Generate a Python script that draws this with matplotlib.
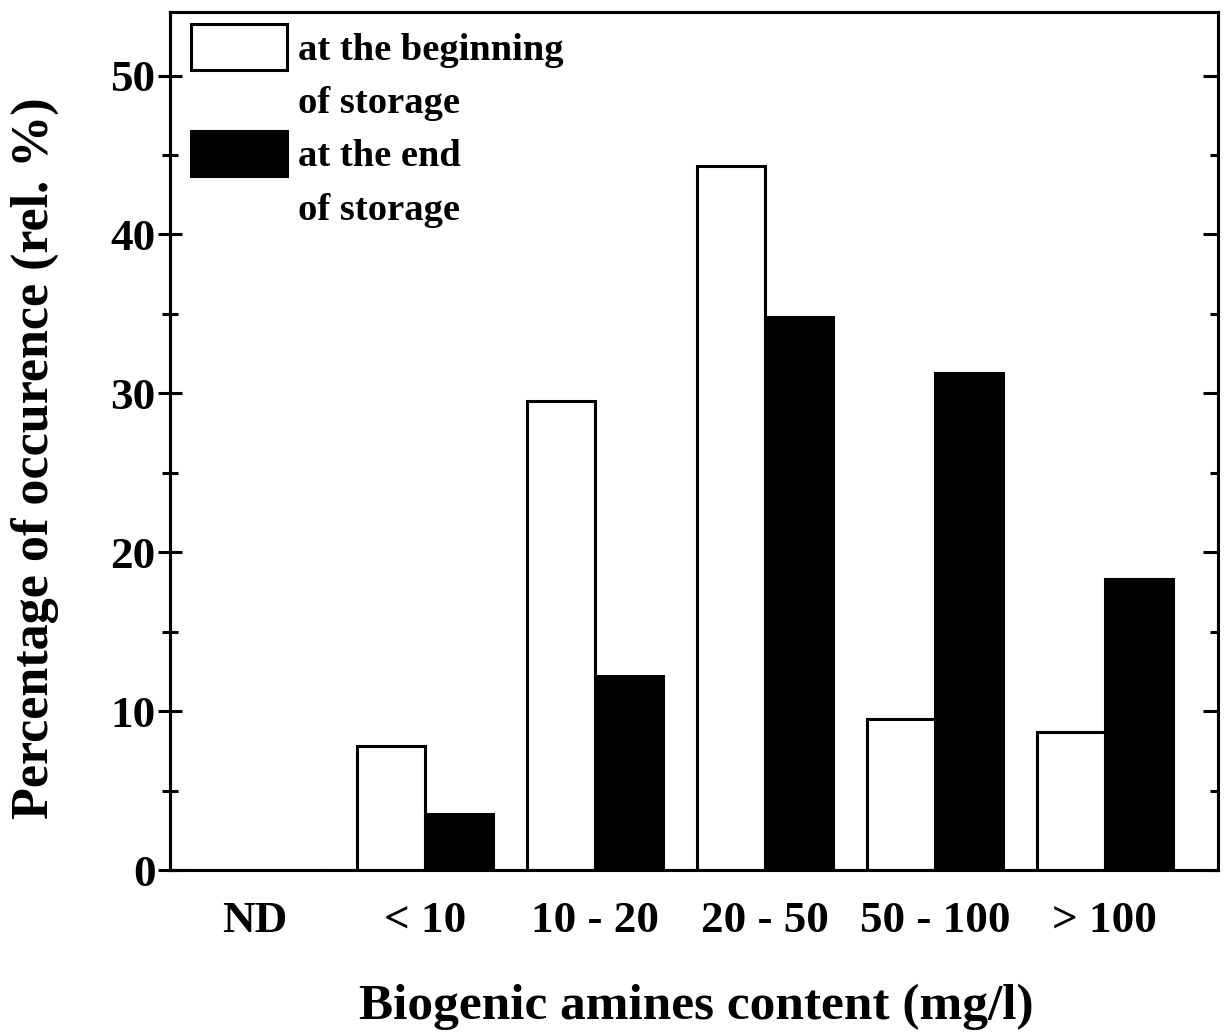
import matplotlib
matplotlib.use("Agg")
import matplotlib.pyplot as plt
from matplotlib.patches import Patch
from matplotlib.ticker import MultipleLocator

categories = ["ND", "< 10", "10 - 20", "20 - 50", "50 - 100", "> 100"]
beginning = [0, 7.8, 29.5, 44.3, 9.5, 8.7]
end = [0, 3.5, 12.2, 34.8, 31.3, 18.3]

plt.rcParams["font.family"] = ["Liberation Serif", "DejaVu Serif"]
plt.rcParams["font.weight"] = "bold"

fig = plt.figure(figsize=(12.24, 10.34), dpi=100)
ax = fig.add_axes([0.1389, 0.1586, 0.8561, 0.8298])

x = list(range(len(categories)))
w = 0.4
lw = 2.2
ax.bar([i - w / 2 for i in x], beginning, w, color="white", edgecolor="black", linewidth=lw)
ax.bar([i + w / 2 for i in x], end, w, color="black", edgecolor="black", linewidth=lw)

ax.set_xlim(-0.5, 5.665)
ax.set_ylim(0, 54)
ax.set_xticks(x)
ax.set_xticklabels(categories)
ax.tick_params(axis="x", length=0, pad=22, labelsize=32.5)
ax.yaxis.set_major_locator(MultipleLocator(10))
ax.yaxis.set_minor_locator(MultipleLocator(5))
ax.tick_params(axis="y", which="major", direction="inout", length=17, width=2.2,
               labelsize=32.5, pad=2)
ax.tick_params(axis="y", which="minor", direction="inout", length=11, width=2.2)
for s in ax.spines.values():
    s.set_linewidth(2.2)

# right-hand ticks point inward only
rax = ax.twinx()
rax.set_ylim(ax.get_ylim())
rax.yaxis.set_major_locator(MultipleLocator(10))
rax.yaxis.set_minor_locator(MultipleLocator(5))
rax.tick_params(axis="y", which="major", direction="in", length=11, width=2.2, labelright=False)
rax.tick_params(axis="y", which="minor", direction="in", length=5.5, width=2.2)
for s in rax.spines.values():
    s.set_linewidth(2.2)

ax.set_xlabel("Biogenic amines content (mg/l)", fontsize=37, fontweight="bold")
ax.xaxis.set_label_coords(0.502, -0.132)
ax.set_ylabel("Percentage of occurence (rel. %)", fontsize=37.5, fontweight="bold")
ax.yaxis.set_label_coords(-0.106, 0.48)

handles = [Patch(facecolor="white", edgecolor="black", linewidth=lw),
           Patch(visible=False),
           Patch(facecolor="black", edgecolor="black", linewidth=lw),
           Patch(visible=False)]
labels = ["at the beginning", "of storage", "at the end", "of storage"]
ax.legend(handles, labels, loc="upper left", bbox_to_anchor=(0.005, 1.004),
          frameon=False, fontsize=27.7,
          handlelength=2.5, handleheight=1.45, handletextpad=0.3,
          labelspacing=0.2, borderaxespad=0.2, borderpad=0.2)

fig.savefig("out.png", dpi=100)
